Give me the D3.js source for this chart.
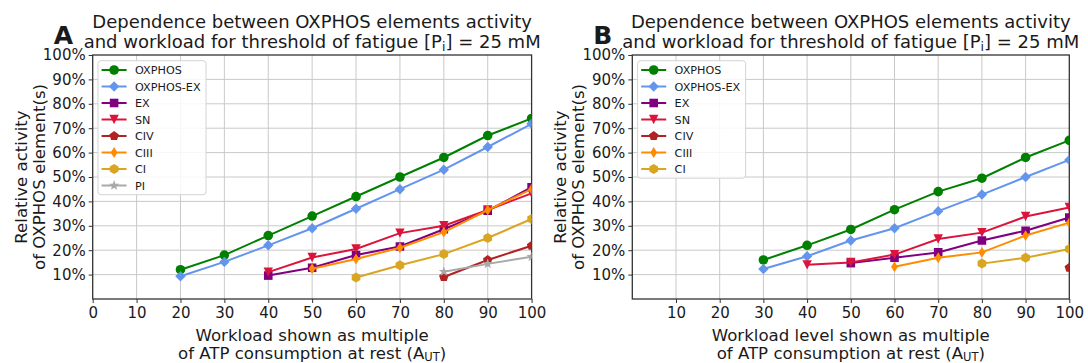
<!DOCTYPE html>
<html>
<head>
<meta charset="utf-8">
<script src="https://cdn.jsdelivr.net/npm/d3@7"></script>
<style>
  body { margin: 0; background: #fff; }
  svg text { font-family: "DejaVu Sans", sans-serif; fill: #1a1a1a; }
</style>
</head>
<body>
<svg id="chart" width="1088" height="363"></svg>
<script>
// workload levels (multiple of ATP consumption at rest)
const levels = [20, 30, 40, 50, 60, 70, 80, 90, 100];
const yTicks = [10, 20, 30, 40, 50, 60, 70, 80, 90, 100];
const xTicksA = [0, 10, 20, 30, 40, 50, 60, 70, 80, 90, 100];
const xTicksB = [10, 20, 30, 40, 50, 60, 70, 80, 90, 100];

// panel A, relative activity in %
const oxphosA   = [12, 18, 26, 34, 42, 50, 58, 67, 74];
const oxphosExA = [9.3, 15.2, 22, 29, 37, 45, 53, 62.3, 71.8];
const exA       = [null, null, 9.6, 12.8, 18, 21.5, 28.6, 36.2, 45.8];
const snA       = [null, null, 11, 17, 20.5, 27, 30, 36.5, 43.3];
const civA      = [null, null, null, null, null, null, 9, 16, 21.8];
const ciiiA     = [null, null, null, 12.4, 16.4, 21, 27.4, 36.4, 45];
const ciA       = [null, null, null, null, 8.8, 13.8, 18.4, 25, 32.8];
const piA       = [null, null, null, null, null, null, 11.2, 14.4, 17.3];

// panel B, relative activity in %
const oxphosB   = [null, 16, 22, 28.5, 36.6, 44, 49.5, 58, 65];
const oxphosExB = [null, 12.3, 17.5, 24, 29, 36, 42.8, 50, 57];
const exB       = [null, null, null, 14.7, 16.9, 19.1, 24, 28, 33.4];
const snB       = [null, null, 14, 15, 18.2, 24.6, 27.2, 33.8, 37.5];
const civB      = [null, null, null, null, null, null, null, null, 12.8];
const ciiiB     = [null, null, null, null, 13.2, 16.9, 19.1, 26, 31.3];
const ciB       = [null, null, null, null, null, null, 14.5, 16.9, 20.5];

const style = {
  'OXPHOS':    {color: '#008000', marker: 'circle'},
  'OXPHOS-EX': {color: '#6495ED', marker: 'diamond'},
  'EX':        {color: '#800080', marker: 'square'},
  'SN':        {color: '#DC143C', marker: 'triDown'},
  'CIV':       {color: '#B22222', marker: 'pentagon'},
  'CIII':      {color: '#FF8C00', marker: 'thinDiamond'},
  'CI':        {color: '#DAA520', marker: 'hexagon'},
  'PI':        {color: '#A9A9A9', marker: 'star'}
};

function poly(n, r, rot) {
  const pts = d3.range(n).map(i => {
    const a = rot + i * 2 * Math.PI / n;
    return [r * Math.sin(a), -r * Math.cos(a)];
  });
  return 'M' + pts.map(p => p.join(',')).join('L') + 'Z';
}
function markerPath(kind) {
  switch (kind) {
    case 'circle': return 'M4.8,0A4.8,4.8 0 1,1 -4.8,0A4.8,4.8 0 1,1 4.8,0Z';
    case 'diamond': return 'M0,-5.2L5.2,0L0,5.2L-5.2,0Z';
    case 'square': return 'M-4.3,-4.3L4.3,-4.3L4.3,4.3L-4.3,4.3Z';
    case 'triDown': return 'M0,4.7L-4.7,-4.7L4.7,-4.7Z';
    case 'pentagon': return poly(5, 5, 0);
    case 'thinDiamond': return 'M0,-5.4L3.4,0L0,5.4L-3.4,0Z';
    case 'hexagon': return poly(6, 5, 0);
    case 'star': {
      const pts = d3.range(10).map(i => {
        const r = i % 2 ? 2.2 : 5.4, a = i * Math.PI / 5;
        return [r * Math.sin(a), -r * Math.cos(a)];
      });
      return 'M' + pts.map(p => p.join(',')).join('L') + 'Z';
    }
  }
}

const svg = d3.select('#chart');
const plotTop = 55, plotBottom = 299;

function drawPanel(cfg) {
  const x = d3.scaleLinear().domain([0, 100]).range([cfg.left, cfg.right]);
  const y = d3.scaleLinear().domain([0, 100]).range([plotBottom, plotTop]);
  const g = svg.append('g');

  // grid
  g.append('g').selectAll('line').data(x.ticks(10).filter(d => d > 0 && d < 100)).join('line')
    .attr('x1', d => x(d)).attr('x2', d => x(d)).attr('y1', plotTop).attr('y2', plotBottom)
    .attr('stroke', '#c9c9c9').attr('stroke-width', 1);
  g.append('g').selectAll('line').data(yTicks.filter(d => d < 100)).join('line')
    .attr('y1', d => y(d)).attr('y2', d => y(d)).attr('x1', cfg.left).attr('x2', cfg.right)
    .attr('stroke', '#c9c9c9').attr('stroke-width', 1);

  // axes
  const ya = g.append('g').attr('transform', `translate(${cfg.left},0)`)
    .call(d3.axisLeft(y).tickValues(yTicks).tickFormat(d => d + '%').tickSize(4).tickPadding(3));
  const xa = g.append('g').attr('transform', `translate(0,${plotBottom})`)
    .call(d3.axisBottom(x).tickValues(cfg.xTicks).tickSize(4).tickPadding(4));
  [ya, xa].forEach(a => {
    a.select('.domain').remove();
    a.selectAll('.tick line').attr('stroke', '#333');
    a.selectAll('.tick text').attr('font-size', 15).attr('fill', '#1a1a1a')
      .attr('font-family', '"DejaVu Sans", sans-serif');
  });

  // frame
  g.append('rect').attr('x', cfg.left).attr('y', plotTop)
    .attr('width', cfg.right - cfg.left).attr('height', plotBottom - plotTop)
    .attr('fill', 'none').attr('stroke', '#333').attr('stroke-width', 1.3);

  // series
  const clipId = 'clip' + cfg.letter;
  svg.append('clipPath').attr('id', clipId).append('rect')
    .attr('x', cfg.left).attr('y', plotTop - 10)
    .attr('width', cfg.right - cfg.left).attr('height', plotBottom - plotTop + 10);
  const plot = g.append('g').attr('clip-path', `url(#${clipId})`);
  const line = d3.line().defined(d => d.v != null).x(d => x(d.x)).y(d => y(d.v));
  cfg.series.forEach(s => {
    const st = style[s.name];
    const pts = levels.map((lv, i) => ({x: lv, v: s.values[i]}));
    plot.append('path').datum(pts).attr('d', line)
      .attr('fill', 'none').attr('stroke', st.color).attr('stroke-width', 2);
    plot.append('g').selectAll('path').data(pts.filter(d => d.v != null)).join('path')
      .attr('transform', d => `translate(${x(d.x)},${y(d.v)})`)
      .attr('d', markerPath(st.marker)).attr('fill', st.color);
  });

  // legend
  const lx = cfg.left + 5.3, ly = 60.7, rowH = 16.5;
  const leg = g.append('g');
  leg.append('rect').attr('x', lx).attr('y', ly).attr('rx', 3)
    .attr('width', 108).attr('height', cfg.series.length * rowH + 2)
    .attr('fill', 'rgba(255,255,255,0.85)').attr('stroke', '#d4d4d4');
  cfg.series.forEach((s, i) => {
    const st = style[s.name];
    const cy = ly + 9.3 + i * rowH;
    leg.append('line').attr('x1', lx + 3.6).attr('x2', lx + 28.6).attr('y1', cy).attr('y2', cy)
      .attr('stroke', st.color).attr('stroke-width', 2);
    leg.append('path').attr('transform', `translate(${lx + 16.1},${cy})`)
      .attr('d', markerPath(st.marker)).attr('fill', st.color);
    leg.append('text').attr('x', lx + 37).attr('y', cy).attr('dy', '0.36em')
      .attr('font-size', 11.2).text(s.name);
  });

  // titles
  const cx = (cfg.left + cfg.right) / 2;
  g.append('text').attr('x', cx).attr('y', 28.3).attr('text-anchor', 'middle')
    .attr('font-size', 18).text('Dependence between OXPHOS elements activity');
  const t2 = g.append('text').attr('x', cx).attr('y', 48.3).attr('text-anchor', 'middle')
    .attr('font-size', 18);
  t2.append('tspan').text('and workload for threshold of fatigue [P');
  t2.append('tspan').attr('font-size', 12.5).attr('dy', 3).text('i');
  t2.append('tspan').attr('dy', -3).text('] = 25 mM');

  g.append('text').attr('x', cfg.left - 39).attr('y', 43.5).attr('font-size', 25)
    .attr('font-weight', 'bold').text(cfg.letter);

  // axis labels
  g.append('text').attr('x', cx).attr('y', 340.5).attr('text-anchor', 'middle')
    .attr('font-size', 16.6).text(cfg.xLabel);
  const xl2 = g.append('text').attr('x', cx).attr('y', 358.5).attr('text-anchor', 'middle')
    .attr('font-size', 16.6);
  xl2.append('tspan').text('of ATP consumption at rest (A');
  xl2.append('tspan').attr('font-size', 11.5).attr('dy', 2.5).text('UT');
  xl2.append('tspan').attr('dy', -2.5).text(')');

  const cy = (plotTop + plotBottom) / 2;
  g.append('text').attr('transform', `translate(${cfg.left - 66},${cy}) rotate(-90)`)
    .attr('text-anchor', 'middle').attr('font-size', 16.6).text('Relative activity');
  g.append('text').attr('transform', `translate(${cfg.left - 48},${cy}) rotate(-90)`)
    .attr('text-anchor', 'middle').attr('font-size', 16.6).text('of OXPHOS element(s)');
}

drawPanel({
  letter: 'A', left: 92.7, right: 531.6, xTicks: xTicksA,
  xLabel: 'Workload shown as multiple',
  series: [
    {name: 'OXPHOS', values: oxphosA}, {name: 'OXPHOS-EX', values: oxphosExA},
    {name: 'EX', values: exA}, {name: 'SN', values: snA}, {name: 'CIV', values: civA},
    {name: 'CIII', values: ciiiA}, {name: 'CI', values: ciA}, {name: 'PI', values: piA}
  ]
});
drawPanel({
  letter: 'B', left: 632.3, right: 1069.3, xTicks: xTicksB,
  xLabel: 'Workload level shown as multiple',
  series: [
    {name: 'OXPHOS', values: oxphosB}, {name: 'OXPHOS-EX', values: oxphosExB},
    {name: 'EX', values: exB}, {name: 'SN', values: snB}, {name: 'CIV', values: civB},
    {name: 'CIII', values: ciiiB}, {name: 'CI', values: ciB}
  ]
});
</script>
</body>
</html>
